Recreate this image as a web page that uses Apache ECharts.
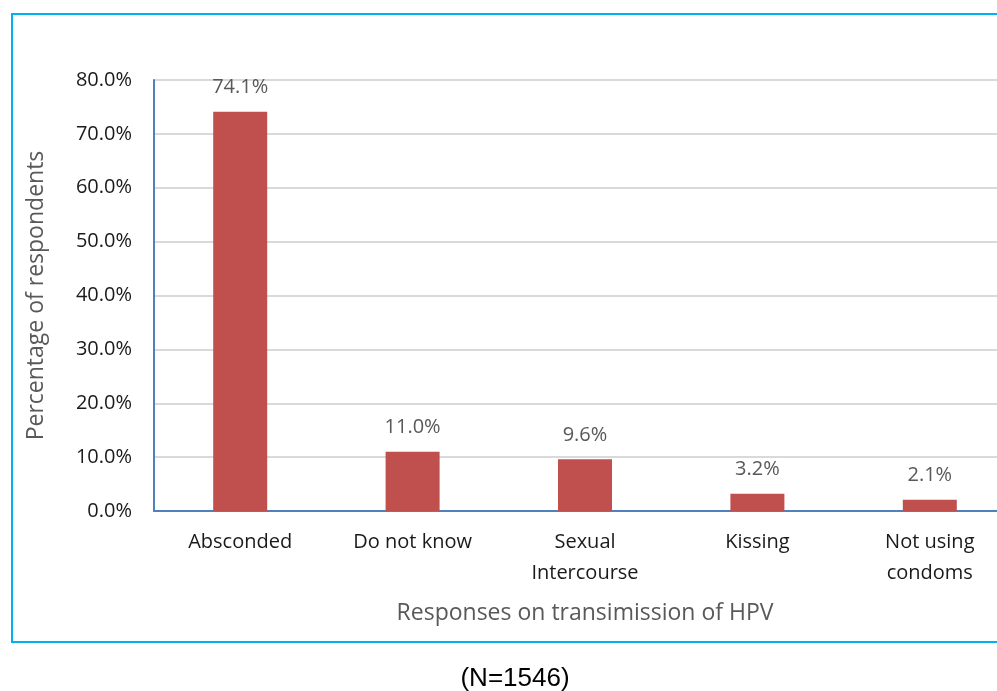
<!DOCTYPE html>
<html>
<head>
<meta charset="utf-8">
<script src="https://cdn.jsdelivr.net/npm/echarts@6/dist/echarts.min.js"></script>
<style>
  html, body { margin: 0; padding: 0; background: #fff; }
  #chart { width: 997px; height: 691px; }
</style>
</head>
<body>
<div id="chart"></div>
<script>
// 数据
const categories = ["Absconded", "Do not know", "Sexual\nIntercourse", "Kissing", "Not using\ncondoms"]
const percentages = [74.1, 11.0, 9.6, 3.2, 2.1]
const yTicks = { min: 0, max: 80, interval: 10 }

const font = "'Open Sans', Lato, sans-serif"

const myChart = echarts.init(document.getElementById("chart"))

let option = {
  animation: false,
  grid: {
    left: 154,
    width: 862,
    top: 80,
    bottom: 180,
    outerBoundsMode: "none"
  },
  xAxis: {
    type: "category",
    data: categories,
    name: "Responses on transimission of HPV",
    nameLocation: "middle",
    nameGap: 91,
    nameTextStyle: { color: "#595959", fontSize: 23, fontFamily: font },
    axisLine: { lineStyle: { color: "#4f81bd", width: 2 } },
    axisTick: { show: false },
    axisLabel: {
      color: "#1a1a1a",
      fontSize: 20,
      fontFamily: font,
      lineHeight: 31,
      margin: 16,
      interval: 0
    }
  },
  yAxis: {
    type: "value",
    min: yTicks.min,
    max: yTicks.max,
    interval: yTicks.interval,
    name: "Percentage of respondents",
    nameLocation: "middle",
    nameGap: 106,
    nameTextStyle: { color: "#595959", fontSize: 23, fontFamily: font },
    axisLine: { show: true, lineStyle: { color: "#4f81bd", width: 2 } },
    axisTick: { show: false },
    splitLine: { lineStyle: { color: "#d9d9d9", width: 2 } },
    axisLabel: {
      color: "#1a1a1a",
      fontSize: 20,
      fontFamily: font,
      margin: 22,
      formatter: (v) => v.toFixed(1) + "%"
    }
  },
  series: [
    {
      type: "bar",
      data: percentages,
      barWidth: 54,
      itemStyle: { color: "#c0504d" },
      label: {
        show: true,
        position: "top",
        distance: 14,
        color: "#595959",
        fontSize: 20,
        fontFamily: font,
        formatter: (p) => p.value.toFixed(1) + "%"
      }
    }
  ],
  graphic: [
    {
      type: "rect",
      shape: { x: 12, y: 14, width: 1000, height: 628 },
      style: { fill: "none", stroke: "#00b0f0", lineWidth: 2 },
      z: -1
    },
    {
      type: "text",
      x: 515,
      y: 679,
      style: {
        text: "(N=1546)",
        fill: "#000",
        align: "center",
        verticalAlign: "middle",
        font: "26px 'Liberation Sans', Arial, sans-serif"
      }
    }
  ]
}

myChart.setOption(option)
window.addEventListener("resize", function () {
  myChart.resize()
})
</script>
</body>
</html>
